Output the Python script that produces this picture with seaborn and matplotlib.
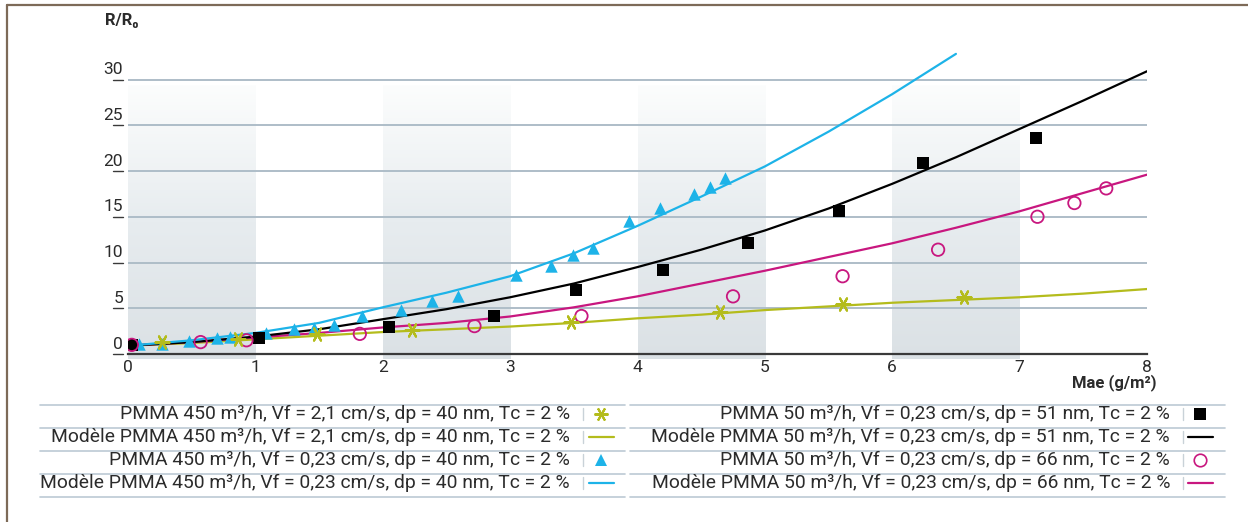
import numpy as np
import pandas as pd
import matplotlib
matplotlib.use("Agg")
import matplotlib.pyplot as plt
import seaborn as sns

# ---- measured points -------------------------------------------------------
tri_x = [0.09, 0.27, 0.48, 0.70, 0.80, 1.08, 1.30, 1.46, 1.62, 1.84, 2.14, 2.39,
         2.59, 3.05, 3.32, 3.49, 3.65, 3.93, 4.18, 4.44, 4.57, 4.69]
tri_y = [1.1, 1.1, 1.4, 1.75, 1.85, 2.3, 2.7, 2.85, 3.2, 4.1, 4.8, 5.8,
         6.3, 8.6, 9.6, 10.8, 11.6, 14.5, 16.0, 17.5, 18.2, 19.2]

sq_x = [0.03, 1.03, 2.05, 2.87, 3.52, 4.20, 4.87, 5.58, 6.24, 7.13]
sq_y = [1.0, 1.75, 2.95, 4.15, 7.0, 9.2, 12.1, 15.6, 20.9, 23.6]

circ_x = [0.03, 0.57, 0.93, 1.82, 2.72, 3.56, 4.75, 5.61, 6.36, 7.14, 7.43, 7.68]
circ_y = [1.0, 1.3, 1.5, 2.2, 3.05, 4.15, 6.3, 8.5, 11.4, 15.0, 16.5, 18.1]

ast_x = [0.27, 0.86, 1.48, 2.23, 3.48, 4.65, 5.61, 6.56]
ast_y = [1.3, 1.65, 2.2, 2.6, 3.5, 4.6, 5.45, 6.2]

# ---- model curves ----------------------------------------------------------
mod_x = [0, 0.5, 1, 1.5, 2, 2.5, 3, 3.5, 4, 4.5, 5, 5.5, 6, 6.5, 7, 7.5, 8]
mod_cyan_x = mod_x[:14]
mod_cyan = [0.9, 1.5, 2.3, 3.4, 5.1, 6.7, 8.5, 11.0, 14.0, 17.2, 20.5, 24.3, 28.4, 32.8]
mod_black = [0.9, 1.3, 1.9, 2.7, 3.8, 4.9, 6.2, 7.7, 9.5, 11.4, 13.5, 15.9, 18.6,
             21.5, 24.6, 27.7, 30.9]
mod_magenta = [0.9, 1.3, 1.8, 2.3, 2.9, 3.4, 4.1, 5.1, 6.3, 7.7, 9.1, 10.6, 12.1,
               13.8, 15.6, 17.6, 19.6]
mod_yellow = [0.9, 1.2, 1.6, 2.0, 2.4, 2.7, 3.0, 3.4, 3.9, 4.3, 4.8, 5.2, 5.6,
              5.9, 6.2, 6.6, 7.1]

x_ticks = [0, 1, 2, 3, 4, 5, 6, 7, 8]
y_ticks = [0, 5, 10, 15, 20, 25, 30]
bands = [(0, 1), (2, 3), (4, 5), (6, 7)]

legend_left = [
    ("PMMA 450 m³/h, Vf = 2,1 cm/s, dp = 40 nm, Tc = 2 %", "ast"),
    ("Modèle PMMA 450 m³/h, Vf = 2,1 cm/s, dp = 40 nm, Tc = 2 %", "yline"),
    ("PMMA 450 m³/h, Vf = 0,23 cm/s, dp = 40 nm, Tc = 2 %", "tri"),
    ("Modèle PMMA 450 m³/h, Vf = 0,23 cm/s, dp = 40 nm, Tc = 2 %", "cline"),
]
legend_right = [
    ("PMMA 50 m³/h, Vf = 0,23 cm/s, dp = 51 nm, Tc = 2 %", "sq"),
    ("Modèle PMMA 50 m³/h, Vf = 0,23 cm/s, dp = 51 nm, Tc = 2 %", "kline"),
    ("PMMA 50 m³/h, Vf = 0,23 cm/s, dp = 66 nm, Tc = 2 %", "circ"),
    ("Modèle PMMA 50 m³/h, Vf = 0,23 cm/s, dp = 66 nm, Tc = 2 %", "mline"),
]

# ---- style -----------------------------------------------------------------
sns.set_style("white")
plt.rcParams['font.family'] = ['Roboto', 'DejaVu Sans']

YELLOW = "#b4bc1c"
CYAN = "#1db3e8"
MAGENTA = "#c8177f"
BLACK = "#000000"
GRID = "#aebdc8"
TXT = "#2b2b2b"
ASTER = (6, 2, 90)

W, H = 1248, 522
fig = plt.figure(figsize=(W / 100, H / 100), dpi=100)
fig.patch.set_facecolor("white")

# frame of the figure (top and left edges)
fig.add_artist(plt.Line2D([7 / W, 1], [1 - 5 / H, 1 - 5 / H], color="#7d6a58", lw=1.6))
fig.add_artist(plt.Line2D([7 / W, 7 / W], [0, 1 - 5 / H], color="#7d6a58", lw=1.6))

x0, x1 = 128, 1147
ymin, ymax = 0, 34
y0px = 354
ppu = 9.15
ytop = y0px - (ymax - ymin) * ppu
ax = fig.add_axes([x0 / W, 1 - y0px / H, (x1 - x0) / W, (y0px - ytop) / H])
for s in ["top", "right", "left"]:
    ax.spines[s].set_visible(False)
ax.spines["bottom"].set_color("#3a3a3a")
ax.spines["bottom"].set_linewidth(1.6)
ax.spines["bottom"].set_zorder(6)

# shaded vertical bands with a vertical gradient
grad = np.linspace(0, 1, 256).reshape(-1, 1)
cmap = matplotlib.colors.LinearSegmentedColormap.from_list(
    "band", ["#dbe1e5", "#e7ecef", "#fcfdfd"])
for a, b in bands:
    ax.imshow(grad, extent=[a, b, -0.5, 29.4], origin="lower", cmap=cmap,
              aspect="auto", zorder=0, clip_on=False)

# horizontal grid lines
for yv in y_ticks[1:]:
    ax.axhline(yv, xmin=0, xmax=1, color=GRID, lw=1.4, zorder=1)

# model lines
sns.lineplot(x=mod_x, y=mod_yellow, color=YELLOW, lw=1.6, ax=ax, zorder=3)
sns.lineplot(x=mod_x, y=mod_magenta, color=MAGENTA, lw=1.6, ax=ax, zorder=3)
sns.lineplot(x=mod_x, y=mod_black, color=BLACK, lw=1.6, ax=ax, zorder=3)
sns.lineplot(x=mod_cyan_x, y=mod_cyan, color=CYAN, lw=1.6, ax=ax, zorder=3)

# measured points
sns.scatterplot(x=tri_x, y=tri_y, marker="^", color=CYAN, s=80, linewidth=0,
                ax=ax, zorder=4)
sns.scatterplot(x=sq_x, y=sq_y, marker="s", color=BLACK, s=75, linewidth=0,
                ax=ax, zorder=4)
sns.scatterplot(x=circ_x, y=circ_y, marker="o", facecolor="none",
                edgecolor=MAGENTA, s=80, linewidth=1.3, ax=ax, zorder=5)
sns.scatterplot(x=ast_x, y=ast_y, marker=ASTER, color=YELLOW, s=100,
                linewidth=1.6, ax=ax, zorder=5)

ax.set_xlim(0, 8)
ax.set_ylim(ymin, ymax)

# ticks
ax.set_yticks([])
ax.set_xticks(x_ticks)
ax.set_xticklabels([str(t) for t in x_ticks], fontsize=12.5, color=TXT)
ax.tick_params(axis="x", direction="in", length=5, width=1.2, color="#3a3a3a", pad=4)
ax.set_xlabel("")
ax.set_ylabel("")

ytrans = matplotlib.transforms.blended_transform_factory(fig.transFigure, ax.transData)
for yv in y_ticks:
    ax.text(123 / W, yv + 0.25, str(yv), transform=ytrans, ha="right", va="bottom",
            fontsize=12.5, color=TXT)
    ax.add_line(plt.Line2D([113 / W, 123 / W], [yv, yv], transform=ytrans,
                           color="#3a3a3a", lw=1.0, clip_on=False))

fig.text(105 / W, 1 - 20 / H, "R/R₀", ha="left", va="center", fontsize=12,
         fontweight="bold", color=TXT)
fig.text(1157 / W, 1 - 383 / H, "Mae (g/m²)", ha="right", va="center", fontsize=12,
         fontweight="bold", color=TXT)

# ---- legend table ---------------------------------------------------------
row_y = [414, 437, 460, 483]
sep_y = [405, 428, 451, 474, 497]
LEGSEP = "#bccad4"


def draw_marker(kind, cx, cy):
    fx, fy = cx / W, 1 - cy / H
    if kind.endswith("line"):
        col = {"yline": YELLOW, "cline": CYAN, "kline": BLACK, "mline": MAGENTA}[kind]
        fig.add_artist(plt.Line2D([fx - 12 / W, fx + 13 / W], [fy, fy], color=col, lw=1.6))
    else:
        spec = {
            "ast": dict(marker=ASTER, color=YELLOW, ms=10, mew=1.5),
            "tri": dict(marker="^", color=CYAN, ms=8, mew=0),
            "sq": dict(marker="s", color=BLACK, ms=8, mew=0),
            "circ": dict(marker="o", mfc="none", mec=MAGENTA, ms=9, mew=1.2),
        }[kind]
        fig.add_artist(plt.Line2D([fx], [fy], ls="none", **spec))


for items, lx0, lx1, txt_r, bar_x, mk_x in [
        (legend_left, 40, 625, 570, 583, 601),
        (legend_right, 630, 1225, 1170, 1183, 1200)]:
    for sy in sep_y:
        fig.add_artist(plt.Line2D([lx0 / W, lx1 / W], [1 - sy / H, 1 - sy / H],
                                  color=LEGSEP, lw=1.2))
    for (label, kind), ry in zip(items, row_y):
        fig.text(txt_r / W, 1 - ry / H, label, ha="right", va="center",
                 fontsize=13.9, color=TXT)
        fig.add_artist(plt.Line2D([bar_x / W, bar_x / W],
                                  [1 - (ry - 6) / H, 1 - (ry + 6) / H],
                                  color="#c9d2d8", lw=1.0))
        draw_marker(kind, mk_x, ry)

fig.savefig("out.png", dpi=100, facecolor="white")
